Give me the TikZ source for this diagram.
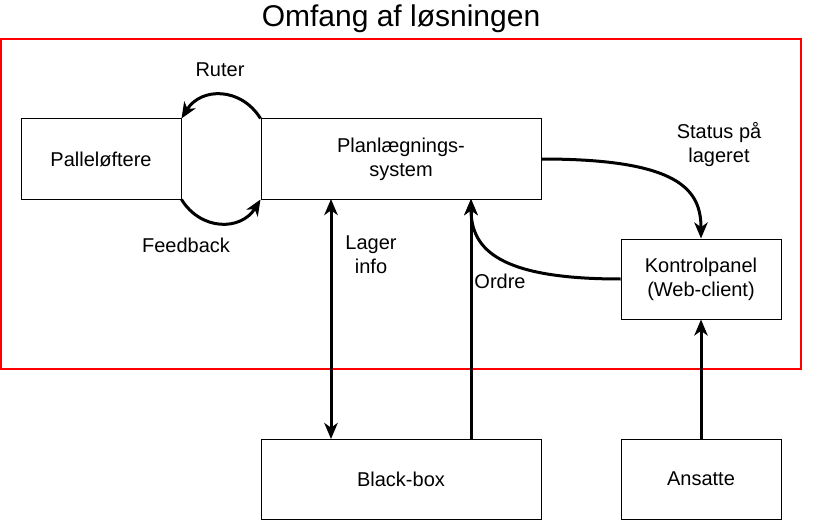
\documentclass[tikz,border=0pt]{standalone}
\usepackage{fontspec}
\setmainfont{Liberation Sans}
\usetikzlibrary{arrows.meta}
\begin{document}
\begin{tikzpicture}[x=0.75pt,y=-0.75pt,
  box/.style={draw=black,line width=0.75pt,fill=white,minimum width=120pt,minimum height=60pt,inner sep=0pt,align=center,font=\fontsize{15}{18}\selectfont},
  conn/.style={line width=2.25pt,-{Stealth[length=12pt,width=10pt,inset=3.5pt]}},
  lbl/.style={align=center,font=\fontsize{15}{18}\selectfont}]
\useasboundingbox (0,0) rectangle (813,531);
\draw[red,line width=1.1pt] (1,39) rectangle (801,369);
\node[font=\fontsize{22.5}{26}\selectfont] (title) at (401,19) {Omfang af løsningen};
\node[box] (pal) at (101,159) {Palleløftere};
\node[box,minimum width=210pt] (plan) at (401,159) {Planlægnings-\\system};
\node[box] (kon) at (701,279) {Kontrolpanel\\(Web-client)};
\node[box,minimum width=210pt] (bb) at (401,479) {Black-box};
\node[box] (ans) at (701,479) {Ansatte};
\draw[conn] (plan.north west) .. controls (241,87) and (201,87) .. (pal.north east);
\draw[conn] (pal.south east) .. controls (201,231) and (241,231) .. (plan.south west);
\draw[conn] (plan.east |- 0,159) .. controls (680,159) and (701,190) .. (kon.north);
\draw[conn] (kon.west) .. controls (500,279) and (471,250) .. (471,199);
\draw[line width=2.25pt,{Stealth[length=12pt,width=10pt,inset=3.5pt]}-{Stealth[length=12pt,width=10pt,inset=3.5pt]}] (331,199) -- (331,439);
\draw[conn] (471,439) -- (471,199);
\draw[conn] (ans.north) -- (kon.south);
\node[lbl] (l1) at (220,70) {Ruter};
\node[lbl] (l2) at (186,245) {Feedback};
\node[lbl] (l3) at (719,145) {Status på\\lageret};
\node[lbl] (l4) at (371,255) {Lager\\info};
\node[lbl] (l5) at (500,281) {Ordre};
\end{tikzpicture}
\end{document}
